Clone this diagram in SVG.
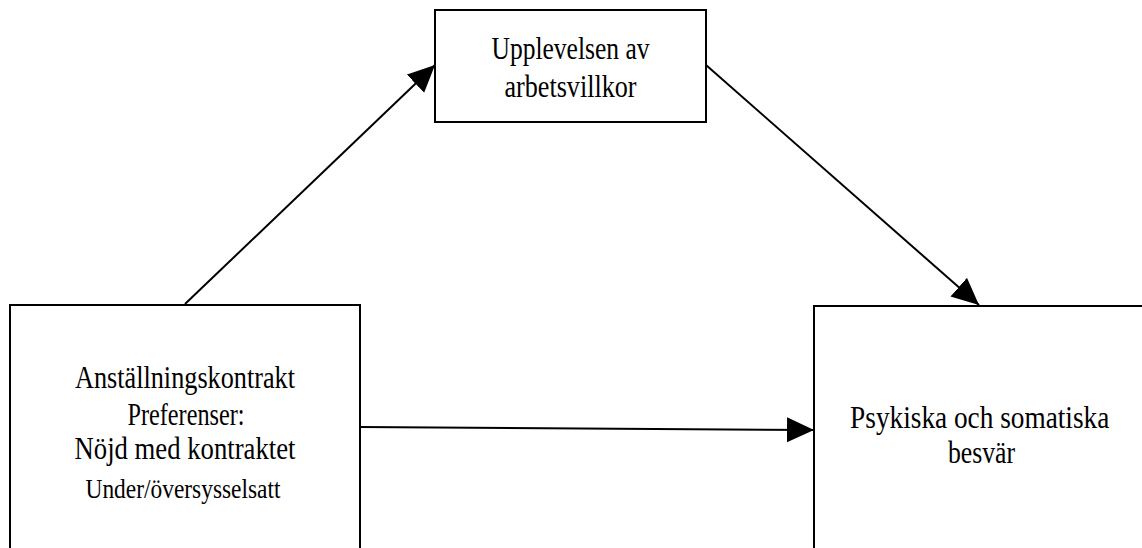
<svg xmlns="http://www.w3.org/2000/svg" width="1142" height="548" viewBox="0 0 1142 548">
  <style>
    .box { fill: #ffffff; stroke: #000000; stroke-width: 2; }
    .lbl { font-family: "Liberation Serif", "Times New Roman", serif; font-size: 31px; fill: #000000; text-anchor: middle; }
    .small { font-size: 28px; }
    .conn { stroke: #000000; stroke-width: 2; fill: none; marker-end: url(#arrow); }
  </style>
  <defs>
    <marker id="arrow" markerUnits="userSpaceOnUse" markerWidth="28" markerHeight="26" refX="27" refY="12.5" orient="auto">
      <path d="M0,0 L27,12.5 L0,25 Z" fill="#000000"/>
    </marker>
  </defs>
  <rect width="1142" height="548" fill="#ffffff"/>

  <g id="connectors">
    <line class="conn" x1="185" y1="304" x2="435" y2="65"/>
    <line class="conn" x1="706" y1="65" x2="979" y2="305"/>
    <line class="conn" x1="360" y1="427" x2="814" y2="430"/>
  </g>

  <g id="arbetsvillkor">
    <rect class="box" x="435" y="10" width="271" height="112"/>
    <text class="lbl" x="570.5" y="58.5" textLength="158" lengthAdjust="spacingAndGlyphs">Upplevelsen av</text>
    <text class="lbl" x="570.5" y="96.8" textLength="132" lengthAdjust="spacingAndGlyphs">arbetsvillkor</text>
  </g>

  <!-- lower boxes run to the page edge; their far sides sit just outside the view -->
  <g id="anstallning">
    <rect class="box" x="10" y="305" width="350" height="244"/>
    <text class="lbl" x="185" y="387.7" textLength="220" lengthAdjust="spacingAndGlyphs">Anställningskontrakt</text>
    <text class="lbl" x="186" y="425" textLength="117" lengthAdjust="spacingAndGlyphs">Preferenser:</text>
    <text class="lbl" x="185" y="459.3" textLength="221" lengthAdjust="spacingAndGlyphs">Nöjd med kontraktet</text>
    <text class="lbl small" x="183" y="497.7" textLength="195" lengthAdjust="spacingAndGlyphs">Under/översysselsatt</text>
  </g>

  <g id="besvar">
    <rect class="box" x="814" y="306" width="329" height="243"/>
    <!-- condensed horizontally, as the other labels -->
    <text class="lbl" transform="translate(979.7 428.3) scale(0.8 1)" x="0" y="0" textLength="324" lengthAdjust="spacingAndGlyphs">Psykiska och somatiska</text>
    <text class="lbl" transform="translate(981.5 463.3) scale(0.8 1)" x="0" y="0" textLength="84" lengthAdjust="spacingAndGlyphs">besvär</text>
  </g>
</svg>
